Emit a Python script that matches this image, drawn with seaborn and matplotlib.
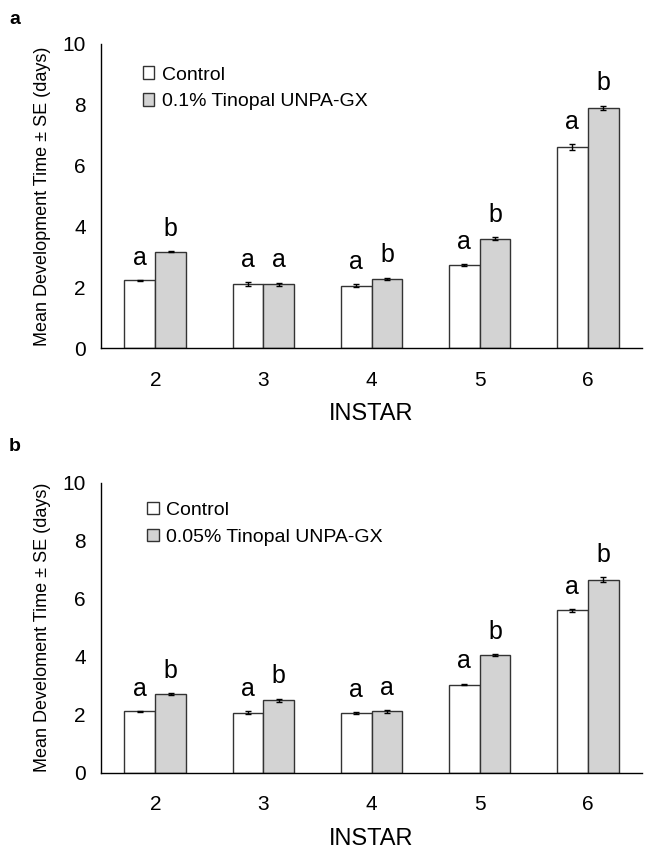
import pandas as pd
import matplotlib.pyplot as plt
import seaborn as sns

instars = ['2', '3', '4', '5', '6']

# panel a: 0.1 % Tinopal
a_control = [2.23, 2.11, 2.06, 2.73, 6.62]
a_control_se = [0.02, 0.06, 0.04, 0.04, 0.09]
a_treat = [3.18, 2.10, 2.28, 3.60, 7.90]
a_treat_se = [0.02, 0.06, 0.04, 0.05, 0.07]
a_letters_ctrl = ['a', 'a', 'a', 'a', 'a']
a_letters_treat = ['b', 'a', 'b', 'b', 'b']

# panel b: 0.05 % Tinopal
b_control = [2.11, 2.07, 2.06, 3.04, 5.60]
b_control_se = [0.02, 0.04, 0.02, 0.03, 0.05]
b_treat = [2.72, 2.50, 2.11, 4.05, 6.65]
b_treat_se = [0.03, 0.05, 0.04, 0.03, 0.09]
b_letters_ctrl = ['a', 'a', 'a', 'a', 'a']
b_letters_treat = ['b', 'b', 'a', 'b', 'b']


def draw_panel(ax, ctrl, ctrl_se, treat, treat_se, let_c, let_t, treat_name,
               ylabel, leg_anchor):
    df = pd.DataFrame({
        'instar': instars * 2,
        'value': ctrl + treat,
        'group': ['Control'] * 5 + [treat_name] * 5,
    })
    sns.barplot(data=df, x='instar', y='value', hue='group',
                palette=['white', '#d3d3d3'], edgecolor='#333333',
                linewidth=1.0, width=0.57, gap=0, errorbar=None, ax=ax)

    # bars come out grouped by hue: first 5 control, then 5 treatment
    bars = ax.patches[:10]
    vals = ctrl + treat
    ses = ctrl_se + treat_se
    letters = let_c + let_t
    for bar, v, se, lt in zip(bars, vals, ses, letters):
        xc = bar.get_x() + bar.get_width() / 2
        ax.errorbar(xc, v, yerr=se, color='black', capsize=2.5, elinewidth=1, capthick=1)
        ax.annotate(lt, (xc, v + se), xytext=(0, 11), textcoords='offset points',
                    ha='center', va='baseline', fontsize=18, color='black')

    ax.set_ylim(0, 10)
    ax.set_yticks([0, 2, 4, 6, 8, 10])
    ax.set_xlim(-0.5, 4.5)
    ax.set_xticks(range(5))
    ax.set_xticklabels(instars)
    ax.set_xticks([i - 0.5 for i in range(6)], minor=True)
    ax.tick_params(axis='x', which='major', length=0, labelsize=15, pad=16,
                   labelcolor='black')
    ax.tick_params(axis='x', which='minor', length=5, width=1, color='black')
    ax.tick_params(axis='y', length=7, width=1, labelsize=15, color='black',
                   labelcolor='black', pad=4)
    for s in ['top', 'right']:
        ax.spines[s].set_visible(False)
    for s in ['left', 'bottom']:
        ax.spines[s].set_color('black')
        ax.spines[s].set_linewidth(1)
    ax.set_xlabel('INSTAR', fontsize=17, labelpad=10, color='black')
    ax.set_ylabel(ylabel, fontsize=13, color='black')
    ax.yaxis.set_label_coords(-0.093, 0.5)
    leg = ax.legend(loc='upper left', bbox_to_anchor=leg_anchor, frameon=False,
                    fontsize=14, handlelength=0.6, handleheight=0.6,
                    handletextpad=0.4, labelspacing=0.5, borderaxespad=0,
                    borderpad=0)
    for t in leg.get_texts():
        t.set_color('black')


def main():
    sns.set_style('white')
    plt.rcParams['font.family'] = ['Liberation Sans', 'DejaVu Sans']

    fig = plt.figure(figsize=(6.55, 8.57), dpi=100)
    ax_a = fig.add_axes([0.1545, 0.5936, 0.8254, 0.3551])
    ax_b = fig.add_axes([0.1545, 0.0984, 0.8254, 0.3384])

    draw_panel(ax_a, a_control, a_control_se, a_treat, a_treat_se,
               a_letters_ctrl, a_letters_treat, '0.1% Tinopal UNPA-GX',
               'Mean Development Time \u00b1 SE (days)', (0.077, 0.926))
    draw_panel(ax_b, b_control, b_control_se, b_treat, b_treat_se,
               b_letters_ctrl, b_letters_treat, '0.05% Tinopal UNPA-GX',
               'Mean Develoment Time \u00b1 SE (days)', (0.0845, 0.933))

    fig.text(0.023, 0.977, 'a', fontsize=14, fontweight='bold', va='center',
             ha='center', color='black')
    fig.text(0.023, 0.479, 'b', fontsize=14, fontweight='bold', va='center',
             ha='center', color='black')

    fig.savefig('out.png', dpi=100)


if __name__ == '__main__':
    main()
